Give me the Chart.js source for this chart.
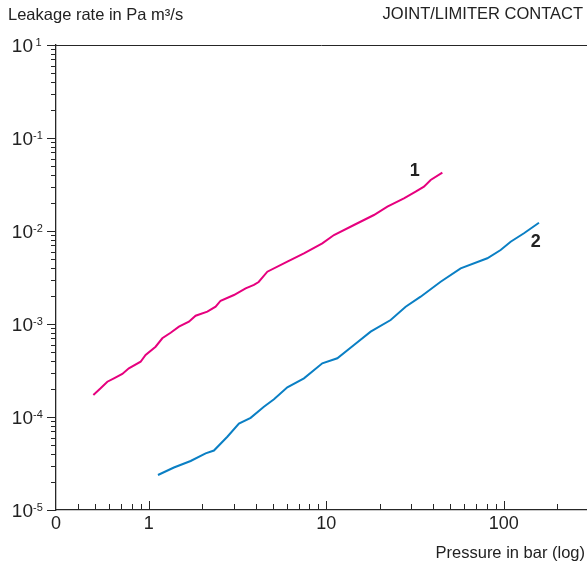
<!DOCTYPE html>
<html>
<head>
<meta charset="utf-8">
<script src="https://cdn.jsdelivr.net/npm/chart.js@4/dist/chart.umd.min.js"></script>
<style>
  html, body { margin: 0; padding: 0; background: #fff; }
  #wrap { width: 587px; height: 564px; }
</style>
</head>
<body>
<div id="wrap"><canvas id="chart" width="587" height="564"></canvas></div>
<script>
// curve 1 (joint) and curve 2 (limiter contact)
const pressure1 = [0.487, 0.535, 0.584, 0.636, 0.709, 0.772, 0.899, 0.959, 1.092, 1.191, 1.327, 1.478,
  1.682, 1.835, 2.136, 2.378, 2.538, 3.016, 3.511, 3.909, 4.156, 4.652, 6.03, 7.48, 9.49, 11.04,
  14.31, 18.54, 22.07, 27.36, 31.85, 35.47, 38.69, 45.03];
const leak1 = [1.725e-4, 2.035e-4, 2.396e-4, 2.607e-4, 2.90e-4, 3.34e-4, 3.93e-4, 4.64e-4, 5.70e-4,
  7.02e-4, 8.06e-4, 9.35e-4, 1.058e-3, 1.228e-3, 1.356e-3, 1.535e-3, 1.780e-3, 2.05e-3, 2.42e-3,
  2.63e-3, 2.83e-3, 3.65e-3, 4.68e-3, 5.76e-3, 7.37e-3, 9.06e-3, 0.0116, 0.01486, 0.01825, 0.02247,
  0.02646, 0.02994, 0.03534, 0.04235];

const pressure2 = [1.126, 1.385, 1.720, 2.089, 2.327, 2.769, 3.218, 3.746, 4.450, 5.07, 6.03, 7.48,
  9.49, 11.53, 14.31, 17.77, 23.03, 27.98, 33.98, 44.05, 57.1, 80.7, 95.9, 109.2, 129.8, 157.7];
const leak2 = [2.378e-5, 2.864e-5, 3.364e-5, 4.07e-5, 4.36e-5, 6.14e-5, 8.51e-5, 9.80e-5, 1.291e-4,
  1.55e-4, 2.087e-4, 2.607e-4, 3.78e-4, 4.28e-4, 5.94e-4, 8.27e-4, 1.104e-3, 1.535e-3, 1.966e-3,
  2.85e-3, 3.97e-3, 5.09e-3, 6.25e-3, 7.67e-3, 9.45e-3, 0.01228];

// axes
const xTickValues = [0.3, 1, 10, 100];
const xTickLabels = ['0', '1', '10', '100'];
const xMinorTicks = [0.4, 0.5, 0.6, 0.7, 0.8, 0.9, 2, 3, 4, 5, 6, 7, 8, 9,
  20, 30, 40, 50, 60, 70, 80, 90, 200];
const yTickValues = [1e-5, 1e-4, 1e-3, 1e-2, 1e-1, 1];
const yTickExponents = ['-5', '-4', '-3', '-2', '-1', '1'];

// curve numbers
const curveNames = ['1', '2'];
const curveNameX = [31.5, 151];
const curveNameY = [0.0442, 0.00762];

const AXIS = '#262626';
const FONT = '"Liberation Sans", Arial, Helvetica, sans-serif';

const decorations = {
  id: 'decorations',
  afterDraw(chart) {
    const { ctx, chartArea, scales } = chart;
    const xs = scales.x, ys = scales.y;
    ctx.save();
    ctx.strokeStyle = AXIS;
    ctx.lineWidth = 1;

    // top frame line
    const top = Math.round(chartArea.top) + 0.5;
    ctx.beginPath();
    ctx.moveTo(chartArea.left, top);
    ctx.lineTo(chartArea.right, top);
    ctx.stroke();

    // x ticks point up into the plot
    ctx.beginPath();
    xTickValues.slice(1).forEach(v => {
      const px = Math.round(xs.getPixelForValue(v)) + 0.5;
      ctx.moveTo(px, chartArea.bottom); ctx.lineTo(px, chartArea.bottom - 9);
    });
    xMinorTicks.forEach(v => {
      const px = Math.round(xs.getPixelForValue(v)) + 0.5;
      ctx.moveTo(px, chartArea.bottom); ctx.lineTo(px, chartArea.bottom - 6);
    });
    ctx.stroke();

    // y ticks point out to the left
    ctx.beginPath();
    yTickValues.forEach((v, i) => {
      const py = Math.round(ys.getPixelForValue(v)) + 0.5;
      ctx.moveTo(chartArea.left, py); ctx.lineTo(chartArea.left - 9, py);
      if (i < yTickValues.length - 1) {
        for (let m = 2; m <= 9; m++) {
          const pm = Math.round(ys.getPixelForValue(v * m)) + 0.5;
          ctx.moveTo(chartArea.left, pm); ctx.lineTo(chartArea.left - 5, pm);
        }
      }
    });
    ctx.stroke();

    // y labels: 10 with exponent
    ctx.fillStyle = '#222';
    ctx.textBaseline = 'alphabetic';
    yTickValues.forEach((v, i) => {
      const py = ys.getPixelForValue(v);
      ctx.font = '19px ' + FONT;
      ctx.textAlign = 'right';
      ctx.fillText('10', 33, py + 6.5);
      ctx.font = '11px ' + FONT;
      ctx.textAlign = 'left';
      ctx.fillText(yTickExponents[i], i === yTickValues.length - 1 ? 35.5 : 33, py + 0.5);
    });

    // texts
    ctx.font = '16.5px ' + FONT;
    ctx.textAlign = 'left';
    ctx.fillText('Leakage rate in Pa m³/s', 8, 20);
    ctx.textAlign = 'right';
    ctx.fillText('JOINT/LIMITER CONTACT', 583, 19);
    ctx.fillText('Pressure in bar (log)', 585, 558);

    // curve numbers
    ctx.font = 'bold 18px ' + FONT;
    ctx.textAlign = 'center';
    ctx.textBaseline = 'middle';
    curveNames.forEach((t, i) => {
      ctx.fillText(t, xs.getPixelForValue(curveNameX[i]), ys.getPixelForValue(curveNameY[i]));
    });
    ctx.restore();
  }
};

new Chart(document.getElementById('chart'), {
  type: 'line',
  data: {
    datasets: [
      {
        label: '1',
        data: pressure1.map((p, i) => ({ x: p, y: leak1[i] })),
        borderColor: '#e6007e',
        borderWidth: 2,
        pointRadius: 0,
        tension: 0
      },
      {
        label: '2',
        data: pressure2.map((p, i) => ({ x: p, y: leak2[i] })),
        borderColor: '#0a7fc4',
        borderWidth: 2,
        pointRadius: 0,
        tension: 0
      }
    ]
  },
  options: {
    responsive: false,
    animation: false,
    layout: { padding: { top: 45, right: 0, left: 0, bottom: 0 } },
    plugins: { legend: { display: false }, tooltip: { enabled: false } },
    scales: {
      x: {
        type: 'logarithmic',
        min: 0.3,
        max: 294,
        afterBuildTicks: s => { s.ticks = xTickValues.map(v => ({ value: v })); },
        afterFit: s => { s.height = 54; },
        grid: { display: false, drawTicks: false },
        border: { display: true, color: AXIS, width: 1.3 },
        ticks: {
          autoSkip: false,
          maxRotation: 0,
          padding: 3,
          color: '#222',
          font: { family: FONT, size: 18 },
          callback: (v, i) => xTickLabels[i]
        }
      },
      y: {
        type: 'logarithmic',
        min: 1e-5,
        max: 1,
        afterBuildTicks: s => { s.ticks = yTickValues.map(v => ({ value: v })); },
        afterFit: s => { s.width = 56; },
        grid: { display: false, drawTicks: false },
        border: { display: true, color: AXIS, width: 1.3 },
        ticks: { display: false }
      }
    }
  },
  plugins: [decorations]
});
</script>
</body>
</html>
